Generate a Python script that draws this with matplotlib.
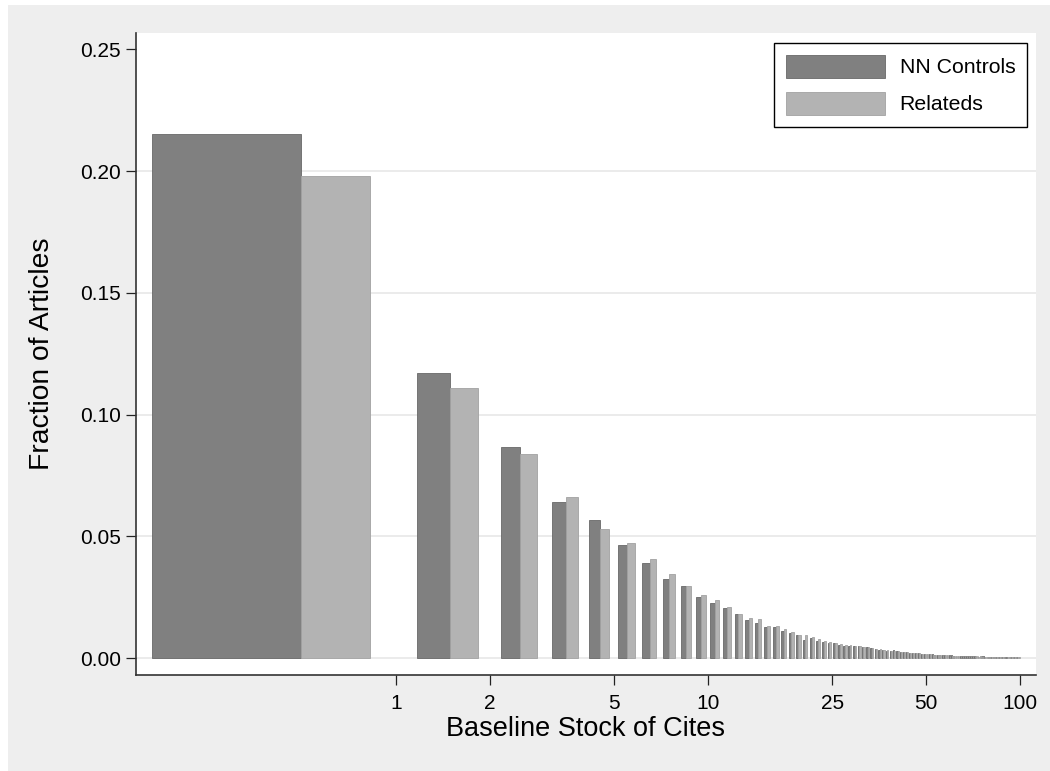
import matplotlib
matplotlib.use("Agg")
import matplotlib.pyplot as plt
from matplotlib.patches import Rectangle
from matplotlib.legend_handler import HandlerPatch
import numpy as np

plt.rcParams['font.family'] = ['Liberation Sans', 'DejaVu Sans']

# Baseline stock of cites (0..99)
cites = list(range(100))

nn_controls = [
    0.2151, 0.1170, 0.0866, 0.0641, 0.0566, 0.0463, 0.0392, 0.0326, 0.0296, 0.0251,
    0.0227, 0.0204, 0.0181, 0.0156, 0.0145, 0.0127, 0.0129, 0.0112, 0.0101, 0.0096,
    0.0074, 0.0082, 0.0070, 0.0067, 0.0063, 0.0060, 0.0055, 0.0049, 0.0049, 0.0049,
    0.0049, 0.0044, 0.0046, 0.0041, 0.0038, 0.0033, 0.0033, 0.0030, 0.0030, 0.0031,
    0.0027, 0.0025, 0.0025, 0.0024, 0.0022, 0.0019, 0.0020, 0.0019, 0.0018, 0.0018,
    0.0016, 0.0015, 0.0015, 0.0014, 0.0013, 0.0013, 0.0012, 0.0012, 0.0011, 0.0011,
    0.0011, 0.0010, 0.0010, 0.0010, 0.0009, 0.0009, 0.0009, 0.0009, 0.0008, 0.0008,
    0.0008, 0.0008, 0.0007, 0.0007, 0.0007, 0.0007, 0.0007, 0.0006, 0.0006, 0.0006,
    0.0006, 0.0006, 0.0006, 0.0005, 0.0005, 0.0005, 0.0005, 0.0005, 0.0005, 0.0005,
    0.0005, 0.0004, 0.0004, 0.0004, 0.0004, 0.0004, 0.0004, 0.0004, 0.0004, 0.0004,
]

relateds = [
    0.1980, 0.1107, 0.0838, 0.0660, 0.0529, 0.0471, 0.0405, 0.0344, 0.0296, 0.0259,
    0.0240, 0.0211, 0.0181, 0.0166, 0.0160, 0.0130, 0.0130, 0.0118, 0.0108, 0.0096,
    0.0096, 0.0088, 0.0077, 0.0070, 0.0065, 0.0063, 0.0058, 0.0052, 0.0053, 0.0049,
    0.0049, 0.0047, 0.0044, 0.0040, 0.0038, 0.0035, 0.0032, 0.0031, 0.0029, 0.0030,
    0.0027, 0.0026, 0.0024, 0.0024, 0.0021, 0.0020, 0.0019, 0.0020, 0.0018, 0.0017,
    0.0016, 0.0016, 0.0014, 0.0014, 0.0013, 0.0012, 0.0013, 0.0011, 0.0011, 0.0010,
    0.0010, 0.0010, 0.0009, 0.0010, 0.0009, 0.0008, 0.0009, 0.0008, 0.0008, 0.0007,
    0.0008, 0.0007, 0.0007, 0.0006, 0.0007, 0.0006, 0.0006, 0.0006, 0.0005, 0.0006,
    0.0005, 0.0005, 0.0005, 0.0005, 0.0004, 0.0005, 0.0004, 0.0004, 0.0004, 0.0004,
    0.0004, 0.0004, 0.0003, 0.0004, 0.0003, 0.0003, 0.0003, 0.0003, 0.0003, 0.0003,
]

x_ticks = [1, 2, 5, 10, 25, 50, 100]
x_tick_labels = ["1", "2", "5", "10", "25", "50", "100"]
y_ticks = [0.00, 0.05, 0.10, 0.15, 0.20, 0.25]
y_tick_labels = ["0.00", "0.05", "0.10", "0.15", "0.20", "0.25"]

W, H = 1050, 771
fig = plt.figure(figsize=(W / 100, H / 100), dpi=100, facecolor="white")
fig.patches.append(Rectangle((8 / W, 0), 1 - 8 / W, 1 - 5 / H, transform=fig.transFigure,
                             facecolor="#eeeeee", edgecolor="none", zorder=-10))

ax = fig.add_axes([136 / W, 1 - 675 / H, 900 / W, 642 / H])
ax.set_facecolor("white")
ax.set_xscale("log")

c = np.array(cites, dtype=float)
bw = 0.33
ax.bar(c + 0.165, nn_controls, width=bw, align="edge", color="#808080",
       edgecolor="#686868", linewidth=0.6, label="NN Controls", zorder=3)
ax.bar(c + 0.495, relateds, width=bw, align="edge", color="#b3b3b3",
       edgecolor="#a2a2a2", linewidth=0.6, label="Relateds", zorder=3)

ax.set_xlim(0.1468, 112.5)
ax.set_ylim(-0.00698, 0.2567)

for yv in y_ticks[:-1]:
    ax.axhline(yv, color="#e8e8e8", linewidth=1.2, zorder=1)

ax.set_xticks(x_ticks)
ax.set_xticklabels(x_tick_labels)
ax.xaxis.set_minor_locator(matplotlib.ticker.NullLocator())
ax.set_yticks(y_ticks)
ax.set_yticklabels(y_tick_labels)

ax.tick_params(axis="both", which="major", direction="out", length=7, width=0.9,
               color="#222222", labelsize=15, labelcolor="black")
ax.tick_params(axis="y", pad=4)
ax.tick_params(axis="x", pad=7)

for side in ["top", "right"]:
    ax.spines[side].set_visible(False)
for side in ["left", "bottom"]:
    ax.spines[side].set_color("#333333")
    ax.spines[side].set_linewidth(1.2)

ax.set_xlabel("Baseline Stock of Cites", fontsize=19.5, labelpad=1.5)
ax.set_ylabel("Fraction of Articles", fontsize=20.3, labelpad=18)

PATCH_H = 19.6  # points


def tall_patch(legend, orig_handle, xdescent, ydescent, width, height, fontsize):
    cy = -ydescent + height / 2.0
    return Rectangle((-xdescent, cy - PATCH_H / 2.0), width, PATCH_H)


leg = ax.legend(loc="upper right", bbox_to_anchor=(1027 / W, 1 - 43 / H),
                bbox_transform=fig.transFigure, fontsize=15.3, frameon=True,
                fancybox=False, edgecolor="black", framealpha=1,
                handlelength=4.65, handleheight=1.3, labelspacing=0.65,
                handletextpad=0.7, borderpad=0.55, borderaxespad=0,
                handler_map={Rectangle: HandlerPatch(patch_func=tall_patch)})
leg.get_frame().set_linewidth(1.0)

fig.savefig("out.png", dpi=100, facecolor=fig.get_facecolor())
